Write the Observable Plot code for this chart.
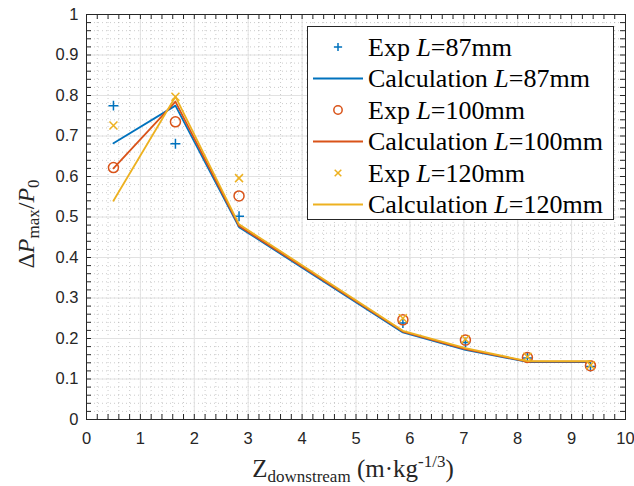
<!DOCTYPE html>
<html><head><meta charset="utf-8">
<script src="https://cdn.jsdelivr.net/npm/d3@7"></script>
<script src="https://cdn.jsdelivr.net/npm/@observablehq/plot@0.6"></script>
<style>body{margin:0;background:#fff} #wrap{position:relative;width:634px;height:486px}</style>
</head><body><div id="wrap"></div>
<script>
const zValues = [0.5, 1.65, 2.83, 5.87, 7.03, 8.18, 9.35];
const exp87  = [0.775, 0.681, 0.502, 0.238, 0.190, 0.152, 0.131];
const exp100 = [0.622, 0.735, 0.552, 0.246, 0.196, 0.153, 0.133];
const exp120 = [0.726, 0.797, 0.596, 0.250, 0.198, 0.155, 0.134];
const calc87  = [0.682, 0.775, 0.475, 0.215, 0.172, 0.142, 0.142];
const calc100 = [0.620, 0.785, 0.478, 0.217, 0.174, 0.143, 0.143];
const calc120 = [0.540, 0.797, 0.482, 0.219, 0.176, 0.144, 0.144];
const seriesNames = ["87", "100", "120"];
const seriesColors = ["#0072BD", "#D95319", "#EDB120"];
const xTicks = [0,1,2,3,4,5,6,7,8,9,10];
const yTicks = [0,0.1,0.2,0.3,0.4,0.5,0.6,0.7,0.8,0.9,1];
const yTickLabels = ["0","0.1","0.2","0.3","0.4","0.5","0.6","0.7","0.8","0.9","1"];

const expSets = [exp87, exp100, exp120];
const calcSets = [calc87, calc100, calc120];
const symbols = ["plus", "circle", "times"];
const symbolR = [3.3, 5, 3.7];

const W = 634, H = 486, mL = 86, mR = 9, mT = 14, mB = 67;
const xMinor = d3.range(0, 10.0001, 0.2);
const yMinor = d3.range(0, 1.0001, 0.02);
const xLen = 5 / ((W - mL - mR) / 10);
const yLen = 5 / (H - mT - mB);
const axisColor = "#262626";
const sansFont = "'Liberation Sans', Arial, Helvetica, sans-serif";
const serifFont = "'Liberation Serif', 'Times New Roman', serif";

const marks = [
  Plot.ruleX(xMinor, {stroke: "#a8a8a8", strokeOpacity: 0.6, strokeDasharray: "1,3"}),
  Plot.ruleY(yMinor, {stroke: "#a8a8a8", strokeOpacity: 0.6, strokeDasharray: "1,3"}),
  Plot.ruleX(xTicks, {stroke: "#e2e2e2"}),
  Plot.ruleY(yTicks, {stroke: "#e2e2e2"})
];
seriesNames.forEach((n, i) => {
  const ex = zValues.map((z, j) => ({z, v: expSets[i][j]}));
  const ca = zValues.map((z, j) => ({z, v: calcSets[i][j]}));
  marks.push(Plot.dot(ex, {x: "z", y: "v", symbol: symbols[i], r: symbolR[i], stroke: seriesColors[i], strokeWidth: 1.5}));
  marks.push(Plot.line(ca, {x: "z", y: "v", stroke: seriesColors[i], strokeWidth: 1.8}));
});
marks.push(
  Plot.ruleX(xMinor, {y1: 0, y2: yLen, stroke: axisColor}),
  Plot.ruleX(xMinor, {y1: 1, y2: 1 - yLen, stroke: axisColor}),
  Plot.ruleY(yMinor, {x1: 0, x2: xLen, stroke: axisColor}),
  Plot.ruleY(yMinor, {x1: 10, x2: 10 - xLen, stroke: axisColor}),
  Plot.frame({stroke: axisColor}),
  Plot.axisX(xTicks, {tickSize: 0, tickPadding: 13, fontSize: 16.5, fontFamily: sansFont, fill: axisColor, label: null, tickFormat: d => String(d)}),
  Plot.axisY(yTicks, {tickSize: 0, tickPadding: 8, fontSize: 16.5, fontFamily: sansFont, fill: axisColor, label: null, tickFormat: (d, i) => yTickLabels[i]})
);

const chart = Plot.plot({
  width: W, height: H, marginLeft: mL, marginRight: mR, marginTop: mT, marginBottom: mB,
  x: {domain: [0, 10]}, y: {domain: [0, 1]},
  style: {background: "#fff", overflow: "visible"},
  marks
});
document.getElementById("wrap").appendChild(chart);

const svg = d3.select(chart);
// x label
const xl = svg.append("text").attr("x", 353).attr("y", 477).attr("text-anchor", "middle")
  .attr("font-family", serifFont).attr("font-size", 25).attr("fill", axisColor);
xl.append("tspan").text("Z");
xl.append("tspan").attr("font-size", 17).attr("dy", 5).text("downstream");
xl.append("tspan").attr("dy", -5).text(" (m·kg");
xl.append("tspan").attr("font-size", 17).attr("dy", -10).text("-1/3");
xl.append("tspan").attr("dy", 10).text(")");
// y label
const yl = svg.append("text").attr("transform", "translate(34,224) rotate(-90)").attr("text-anchor", "middle")
  .attr("font-family", serifFont).attr("font-size", 24).attr("fill", axisColor);
yl.append("tspan").text("Δ");
yl.append("tspan").attr("font-style", "italic").text("P");
yl.append("tspan").attr("font-size", 17).attr("dy", 5).text("max");
yl.append("tspan").attr("dy", -5).text("/");
yl.append("tspan").attr("font-style", "italic").text("P");
yl.append("tspan").attr("font-size", 17).attr("dy", 5).text("0");

// legend
const lg = svg.append("g").attr("text-anchor", "start");
lg.append("rect").attr("x", 307.5).attr("y", 26.5).attr("width", 306).attr("height", 193)
  .attr("fill", "#fff").attr("stroke", axisColor);
const rowY = i => 47 + i * 31.5;
const symMap = {plus: d3.symbolPlus, circle: d3.symbolCircle, times: d3.symbolTimes};
seriesNames.forEach((n, i) => {
  const ye = rowY(2 * i), yc = rowY(2 * i + 1);
  lg.append("path").attr("transform", `translate(338,${ye})`)
    .attr("d", d3.symbol(symMap[symbols[i]], Math.PI * symbolR[i] * symbolR[i] * 0.7)())
    .attr("fill", "none").attr("stroke", seriesColors[i]).attr("stroke-width", 1.5);
  lg.append("line").attr("x1", 313).attr("x2", 363).attr("y1", yc).attr("y2", yc)
    .attr("stroke", seriesColors[i]).attr("stroke-width", 1.8);
  [["Exp ", ye], ["Calculation ", yc]].forEach(([lab, yy]) => {
    const t = lg.append("text").attr("x", 368).attr("y", yy + 8.5).attr("text-anchor", "start")
      .attr("font-family", serifFont).attr("font-size", 26).attr("fill", "#000");
    t.append("tspan").text(lab);
    t.append("tspan").attr("font-style", "italic").text("L");
    t.append("tspan").text("=" + n + "mm");
  });
});
</script></body></html>
